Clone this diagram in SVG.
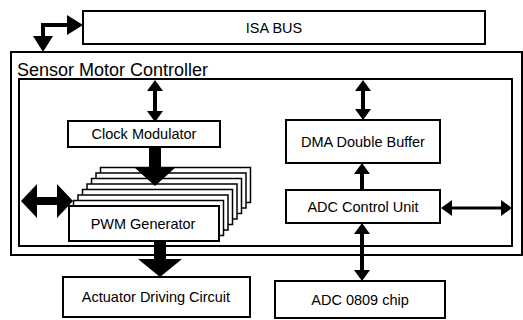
<svg xmlns="http://www.w3.org/2000/svg" width="523" height="320" viewBox="0 0 523 320">
<style>
.box{fill:#fff;stroke:#000;stroke-width:2}
.layer{fill:#fff;stroke:#000;stroke-width:1.5}
.lbl{font-family:"Liberation Sans",Arial,sans-serif;font-size:14.5px;fill:#000;text-anchor:middle}
.title{font-family:"Liberation Sans",Arial,sans-serif;font-size:18px;fill:#000}
.thin{fill:none;stroke:#000;stroke-width:4}
.thin3{fill:none;stroke:#000;stroke-width:3}
.fat{fill:#000;stroke:none}
</style>
<defs>
<marker id="ah" markerUnits="userSpaceOnUse" markerWidth="14" markerHeight="16" viewBox="0 0 11 16" refX="0" refY="8" orient="auto-start-reverse">
<path d="M0,0 L11,8 L0,16 z" fill="#000"/>
</marker>
<marker id="ahb" markerUnits="userSpaceOnUse" markerWidth="16" markerHeight="20" viewBox="0 0 16 20" refX="0" refY="10" orient="auto-start-reverse">
<path d="M0,0 L16,10 L0,20 z" fill="#000"/>
</marker>
</defs>
<rect width="523" height="320" fill="#fff"/>
<g id="isa-bus">
<rect class="box" x="83" y="11" width="402" height="33"/>
<text class="lbl" x="274" y="33" font-size="13">ISA BUS</text>
</g>
<g id="sensor-motor-controller">
<rect class="box" x="11" y="52" width="511" height="203"/>
<text class="title" x="17" y="76">Sensor Motor Controller</text>
<rect class="box" x="19" y="79" width="493" height="167"/>
</g>
<g id="clock-modulator">
<rect class="box" x="68" y="121" width="152" height="26"/>
<text class="lbl" x="144" y="139">Clock Modulator</text>
</g>
<g id="pwm-generator">
<rect class="layer" x="100.5" y="167.5" width="150" height="35"/>
<rect class="layer" x="96" y="173" width="150" height="35"/>
<rect class="layer" x="91.5" y="178.5" width="150" height="35"/>
<rect class="layer" x="87" y="184" width="150" height="35"/>
<rect class="layer" x="82.5" y="189.5" width="150" height="35"/>
<rect class="layer" x="78" y="195" width="150" height="35"/>
<rect class="layer" x="73.5" y="200.5" width="150" height="35"/>
<rect class="box" x="69" y="206" width="150" height="35"/>
<text class="lbl" x="143" y="229">PWM Generator</text>
</g>
<g id="dma-double-buffer">
<rect class="box" x="286" y="120" width="154" height="43"/>
<text class="lbl" x="363" y="147">DMA Double Buffer</text>
</g>
<g id="adc-control-unit">
<rect class="box" x="286" y="190" width="154" height="33"/>
<text class="lbl" x="363" y="212">ADC Control Unit</text>
</g>
<g id="actuator-driving-circuit">
<rect class="box" x="63" y="277" width="187" height="40"/>
<text class="lbl" x="156" y="302">Actuator Driving Circuit</text>
</g>
<g id="adc-0809-chip">
<rect class="box" x="275" y="281" width="170" height="37"/>
<text class="lbl" x="360" y="305">ADC 0809 chip</text>
</g>
<g id="connectors">
<path class="thin" d="M43,36 L43,25 L67,25" marker-start="url(#ahb)" marker-end="url(#ahb)"/>
<path class="thin" d="M155,91 L155,111" marker-start="url(#ah)" marker-end="url(#ah)"/>
<path class="thin" d="M363,91 L363,109" marker-start="url(#ah)" marker-end="url(#ah)"/>
<path class="thin" d="M362,190 L362,174" marker-end="url(#ah)"/>
<path class="thin" d="M362,234 L362,270" marker-start="url(#ah)" marker-end="url(#ah)"/>
<path class="thin3" d="M452,208 L501,208" marker-start="url(#ah)" marker-end="url(#ah)"/>
<polygon class="fat" points="149,147 161,147 161,167 176,167 155,186 134,167 149,167"/>
<polygon class="fat" points="154,241 166,241 166,259 182,259 160,277 138,259 154,259"/>
<polygon class="fat" points="21,201 37,184 37,197 57,197 57,184 73,201 57,218 57,205 37,205 37,218"/>
</g>
</svg>
